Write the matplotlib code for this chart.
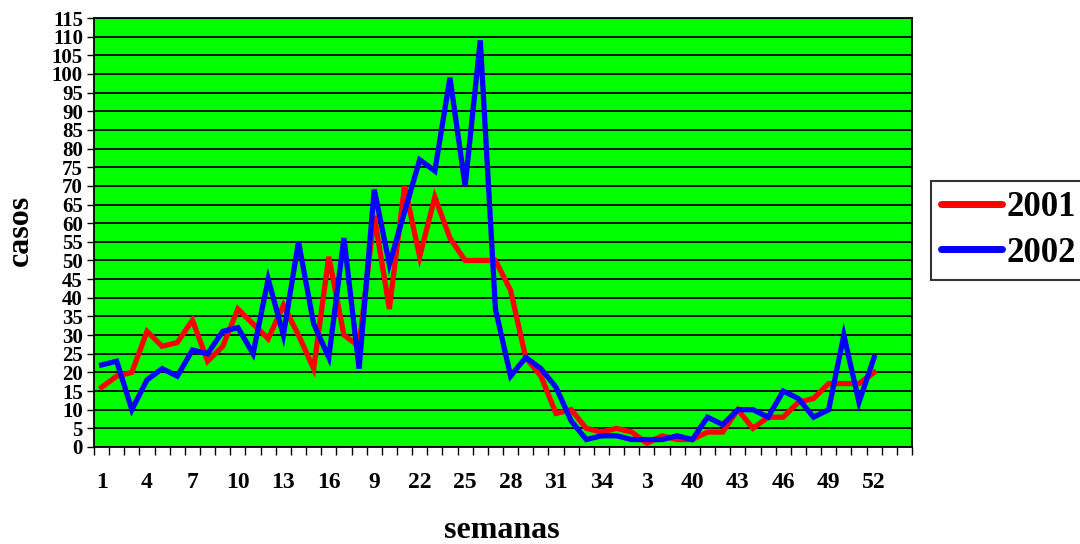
import numpy as np
import matplotlib
matplotlib.use("Agg")
import matplotlib.pyplot as plt
from matplotlib.ticker import FixedLocator, MultipleLocator

plt.rcParams['font.family'] = ['Liberation Serif', 'DejaVu Serif']
plt.rcParams['font.weight'] = 'bold'

# casos por semana epidemiologica
semanas = np.arange(1, 53)
casos_2001 = [16, 19, 20, 31, 27, 28, 34, 23, 27, 37, 33, 29, 38, 30, 21, 51, 30, 27,
              62, 37, 70, 51, 67, 56, 50, 50, 50, 42, 24, 19, 9, 10, 5, 4, 5, 4,
              1, 3, 2, 2, 4, 4, 10, 5, 8, 8, 12, 13, 17, 17, 17, 20]
casos_2002 = [22, 23, 10, 18, 21, 19, 26, 25, 31, 32, 25, 45, 30, 55, 33, 24, 56, 21,
              69, 49, 63, 77, 74, 99, 70, 109, 37, 19, 24, 21, 16, 7, 2, 3, 3, 2,
              2, 2, 3, 2, 8, 6, 10, 10, 8, 15, 13, 8, 10, 30, 12, 24]

tick_pos = [1, 4, 7, 10, 13, 16, 19, 22, 25, 28, 31, 34, 37, 40, 43, 46, 49, 52]
tick_txt = ['1', '4', '7', '10', '13', '16', '9', '22', '25', '28', '31', '34',
            '3', '40', '43', '46', '49', '52']
n_cat = 54

fig = plt.figure(figsize=(10.8, 5.44), dpi=100)
ax = fig.add_axes([94 / 1080, 1 - 447 / 544, (912 - 94) / 1080, (447 - 18) / 544])
ax.set_facecolor('#00FF00')

ax.plot(semanas, casos_2001, color='#FF0000', lw=3.8, solid_joinstyle='miter', label='2001', zorder=3)
ax.plot(semanas, casos_2002, color='#0000FF', lw=3.8, solid_joinstyle='miter', label='2002', zorder=4)

ax.set_xlim(0.5, n_cat + 0.5)
ax.set_ylim(0, 115)

ax.yaxis.set_major_locator(MultipleLocator(5))
ax.yaxis.grid(True, color='black', lw=1.3)
ax.set_axisbelow(True)
for lbl in ax.get_yticklabels():
    lbl.set_fontweight('bold')
ax.tick_params(axis='y', labelsize=15, length=5, width=1, pad=3, direction='out')

# category boundary ticks, labels every third week
ax.xaxis.set_major_locator(FixedLocator(np.arange(0.5, n_cat + 1, 1)))
ax.xaxis.set_major_formatter(plt.NullFormatter())
ax.xaxis.set_minor_locator(FixedLocator(tick_pos))
ax.set_xticklabels(tick_txt, minor=True)
ax.tick_params(axis='x', which='major', length=6, width=1, direction='out')
ax.tick_params(axis='x', which='minor', length=0, labelsize=17, pad=18)
for lbl in ax.get_xticklabels(minor=True):
    lbl.set_fontweight('bold')

for s in ax.spines.values():
    s.set_color('black')
    s.set_linewidth(1.3)

fig.text(20 / 1080, 1 - 230 / 544, 'casos', rotation=90, ha='center', va='center',
         fontsize=23, fontweight='bold')
fig.text(502 / 1080, 1 - 530 / 544, 'semanas', ha='center', va='center',
         fontsize=23, fontweight='bold')

leg = fig.legend(loc='upper left', bbox_to_anchor=(931 / 1080, 1 - 181 / 544),
                 prop={'size': 25, 'weight': 'bold'}, handlelength=1.75,
                 handletextpad=0.12, borderpad=0.3, labelspacing=0.35,
                 frameon=True, fancybox=False, borderaxespad=0)
leg.get_frame().set_edgecolor('black')
leg.get_frame().set_linewidth(1.5)
for h in leg.get_lines():
    h.set_linewidth(5)
    h.set_solid_capstyle('round')

fig.savefig('out.png', dpi=100, facecolor='white')
